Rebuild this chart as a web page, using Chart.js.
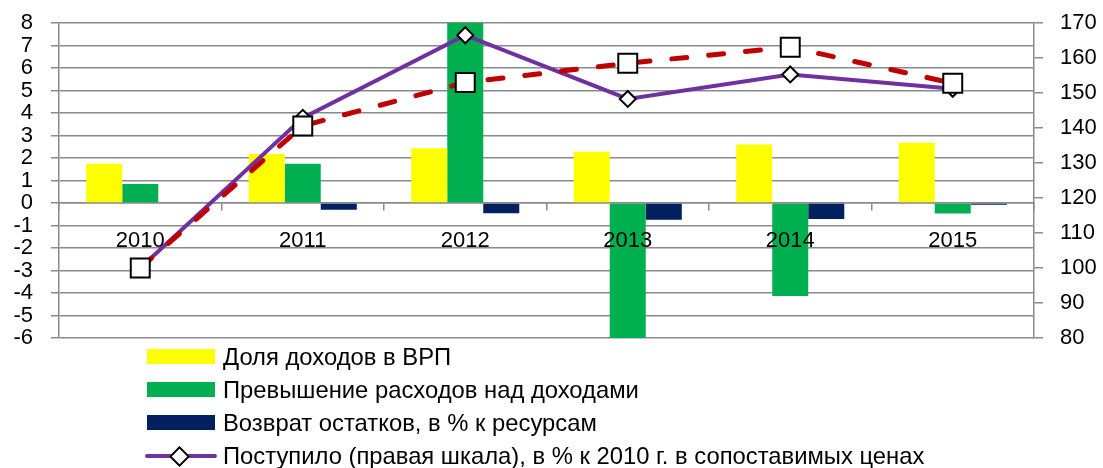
<!DOCTYPE html>
<html>
<head>
<meta charset="utf-8">
<script src="https://cdn.jsdelivr.net/npm/chart.js@4.4.1/dist/chart.umd.min.js"></script>
<style>
  html, body { margin: 0; padding: 0; background: #fff; }
  #wrap { position: relative; width: 1103px; height: 468px; overflow: hidden; }
  #c { position: absolute; left: 0; top: 0; }
  #legend { position: absolute; left: 145px; top: 340px; font-family: "Liberation Sans", Arial, sans-serif; font-size: 23.8px; color: #000; }
  .row { position: relative; height: 33px; display: flex; align-items: center; white-space: nowrap; }
  .icon { position: relative; width: 72px; height: 20px; margin-right: 6px; }
  .box { position: absolute; left: 2px; top: 2.5px; width: 68px; height: 15px; }
  .ln { position: absolute; left: 0; top: 8px; width: 72px; height: 4px; border-radius: 2px; }
  .dm { position: absolute; left: 27px; top: 3.5px; width: 11px; height: 11px; background: #fff; border: 2px solid #000; transform: rotate(45deg); }
</style>
</head>
<body>
<div id="wrap">
  <canvas id="c" width="1103" height="468"></canvas>
  <div id="legend"></div>
</div>
<script>
// ---- data ----
const categories = ['2010', '2011', '2012', '2013', '2014', '2015'];
const shareOfGRP = [1.75, 2.18, 2.43, 2.28, 2.6, 2.68];            // Доля доходов в ВРП
const expenseExcess = [0.85, 1.74, 8, -6, -4.13, -0.47];           // Превышение расходов над доходами
const balanceReturn = [0, -0.3, -0.45, -0.74, -0.71, -0.08];       // Возврат остатков
const receivedConst = [100, 142.9, 166.5, 148.3, 155.3, 151.2];    // Поступило (правая шкала)
const receivedSecond = [100, 140.6, 153.0, 158.5, 163.1, 152.8];   // dashed series (legend entry cut off)
const leftMin = -6, leftMax = 8, leftStep = 1;
const rightMin = 80, rightMax = 170, rightStep = 10;

const labels = {
  share: 'Доля доходов в ВРП',
  excess: 'Превышение расходов над доходами',
  ret: 'Возврат остатков, в % к ресурсам',
  recv: 'Поступило (правая шкала), в % к 2010 г. в сопоставимых ценах',
  second: 'Поступило (правая шкала), в % к 2010 г.'
};

const FONT = '"Liberation Sans", Arial, sans-serif';
const GRID = '#8a8a8a';

const datasets = [
  { type: 'bar', label: labels.share, data: shareOfGRP, backgroundColor: '#FFFF00', yAxisID: 'y', order: 3, inLegend: true },
  { type: 'bar', label: labels.excess, data: expenseExcess, backgroundColor: '#00B050', yAxisID: 'y', order: 4, inLegend: true },
  { type: 'bar', label: labels.ret, data: balanceReturn, backgroundColor: '#002060', yAxisID: 'y', order: 5, inLegend: true },
  { type: 'line', label: labels.recv, data: receivedConst, yAxisID: 'y1', order: 2, inLegend: true,
    borderColor: '#7030A0', borderWidth: 4, tension: 0, fill: false,
    pointStyle: 'rectRot', pointRadius: 8, pointBackgroundColor: '#fff', pointBorderColor: '#000', pointBorderWidth: 2 },
  { type: 'line', label: labels.second, data: receivedSecond, yAxisID: 'y1', order: 1, inLegend: false,
    borderColor: '#C00000', borderWidth: 5, borderDash: [15, 22], borderCapStyle: 'round', tension: 0, fill: false,
    pointStyle: 'rect', pointRadius: 13.4, pointBackgroundColor: '#fff', pointBorderColor: '#000', pointBorderWidth: 2 }
];

const fitY = w => s => { s.width = w; s.paddingTop = 0; s.paddingBottom = 0; };

const chart = new Chart(document.getElementById('c'), {
  data: { labels: categories, datasets: datasets },
  options: {
    responsive: false,
    animation: false,
    layout: { padding: { top: 23, left: 0, right: 0, bottom: 130 } },
    datasets: { bar: { categoryPercentage: 0.665, barPercentage: 1 } },
    plugins: { legend: { display: false }, tooltip: { enabled: false } },
    scales: {
      x: {
        type: 'category',
        position: { y: 0 },
        offset: true,
        afterFit: s => { s.height = 40; },
        grid: { display: true, offset: true, drawOnChartArea: false, drawTicks: true, tickLength: 7, color: GRID, lineWidth: 1.5 },
        border: { display: true, color: GRID, width: 1.5 },
        ticks: { z: 1, color: '#000', font: { family: FONT, size: 22 }, padding: 18, maxRotation: 0, autoSkip: false }
      },
      y: {
        position: 'left',
        min: leftMin, max: leftMax,
        afterFit: fitY(59),
        grid: { color: GRID, lineWidth: 1.5, tickLength: 8 },
        border: { display: true, color: GRID, width: 1.5 },
        ticks: { stepSize: leftStep, autoSkip: false, color: '#000', font: { family: FONT, size: 22 }, padding: 18 }
      },
      y1: {
        position: 'right',
        min: rightMin, max: rightMax,
        afterFit: fitY(69),
        grid: { drawOnChartArea: false, color: GRID, lineWidth: 1.5, tickLength: 9 },
        border: { display: true, color: GRID, width: 1.5 },
        ticks: { stepSize: rightStep, autoSkip: false, color: '#000', font: { family: FONT, size: 22 }, padding: 17 }
      }
    }
  }
});

// HTML legend built from the datasets
const legend = document.getElementById('legend');
chart.data.datasets.forEach(ds => {
  if (!ds.inLegend) return;
  const row = document.createElement('div');
  row.className = 'row';
  const icon = document.createElement('div');
  icon.className = 'icon';
  if (ds.type === 'bar') {
    const b = document.createElement('div');
    b.className = 'box';
    b.style.background = ds.backgroundColor;
    icon.appendChild(b);
  } else {
    const l = document.createElement('div');
    l.className = 'ln';
    l.style.background = ds.borderColor;
    icon.appendChild(l);
    const d = document.createElement('div');
    d.className = 'dm';
    icon.appendChild(d);
  }
  const t = document.createElement('span');
  t.textContent = ds.label;
  row.appendChild(icon);
  row.appendChild(t);
  legend.appendChild(row);
});
</script>
</body>
</html>
